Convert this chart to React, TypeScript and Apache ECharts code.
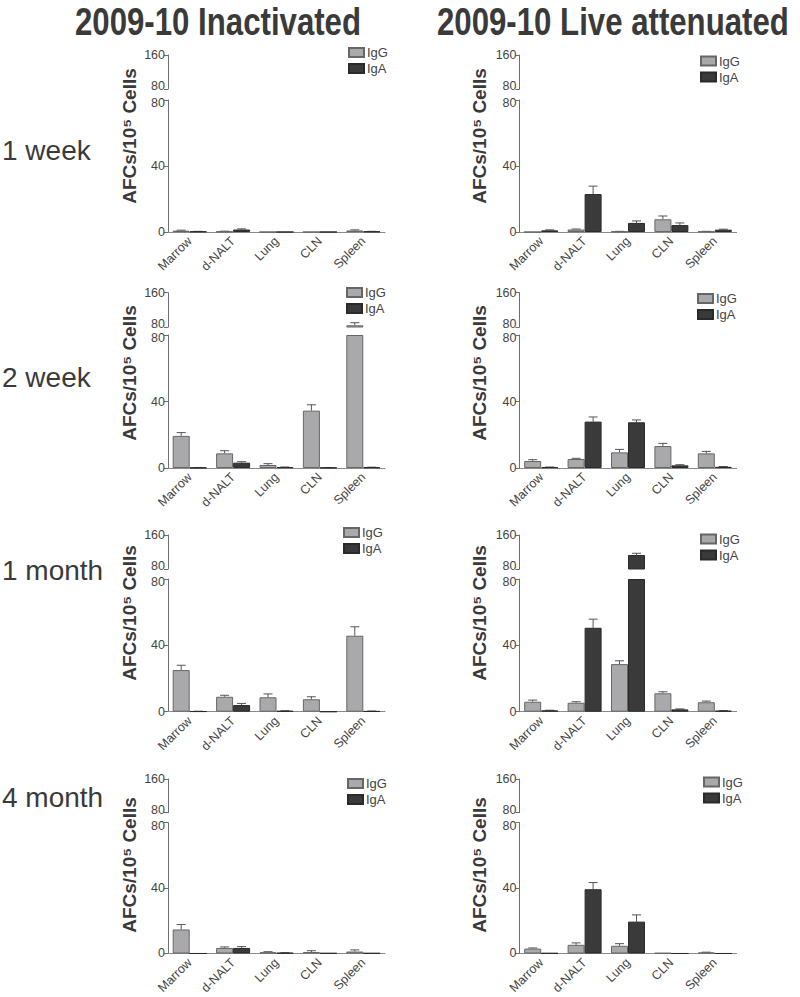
import React, { useEffect, useRef } from "react";
import * as echarts from "echarts";

// ---------- data ----------
const categories = ["Marrow", "d-NALT", "Lung", "CLN", "Spleen"];
const rowLabels = ["1 week", "2 week", "1 month", "4 month"];
const columnTitles = ["2009-10 Inactivated", "2009-10 Live attenuated"];
const seriesNames = ["IgG", "IgA"];
const lowerTicks = [0, 40, 80];
const upperTicks = [80, 160];

// Inactivated
const inact1wIgG = [0.8, 0.3, 0, 0, 0.9];
const inact1wIgGErr = [0.3, 0.2, 0, 0, 0.4];
const inact1wIgA = [0.3, 1.5, 0, 0, 0.3];
const inact1wIgAErr = [0.1, 0.4, 0, 0, 0.1];

const inact2wIgG = [19.3, 8.8, 1.8, 34.5, 84];
const inact2wIgGErr = [2.0, 1.6, 0.8, 3.5, 6];
const inact2wIgA = [0.2, 3.2, 0.5, 0.2, 0.4];
const inact2wIgAErr = [0.1, 0.6, 0.1, 0.1, 0.1];

const inact1mIgG = [25.1, 9.0, 8.7, 7.5, 45.8];
const inact1mIgGErr = [2.9, 0.9, 2.0, 1.5, 5.4];
const inact1mIgA = [0.2, 4.0, 0.5, 0, 0.3];
const inact1mIgAErr = [0.1, 1.0, 0.1, 0, 0.1];

const inact4mIgG = [14.7, 3.4, 0.8, 0.9, 1.2];
const inact4mIgGErr = [3.0, 0.6, 0.3, 0.8, 1.0];
const inact4mIgA = [0, 3.4, 0.4, 0.2, 0.2];
const inact4mIgAErr = [0, 0.8, 0.1, 0, 0];

// Live attenuated
const live1wIgG = [0, 1.5, 0.3, 7.7, 0.3];
const live1wIgGErr = [0, 0.3, 0.1, 2.0, 0.1];
const live1wIgA = [1.0, 23, 5.5, 4.2, 1.4];
const live1wIgAErr = [0.3, 4.8, 1.2, 1.3, 0.3];

const live2wIgG = [4.2, 5.4, 9.4, 13.2, 8.8];
const live2wIgGErr = [0.8, 0.4, 1.8, 1.6, 1.2];
const live2wIgA = [0.5, 27.9, 27.5, 1.6, 0.7];
const live2wIgAErr = [0.1, 2.8, 1.4, 0.4, 0.2];

const live1mIgG = [6.0, 5.4, 28.7, 11.1, 5.7];
const live1mIgGErr = [1.0, 0.6, 2.0, 0.9, 0.7];
const live1mIgA = [0.8, 50.6, 113, 1.4, 0.6];
const live1mIgAErr = [0.1, 5.2, 4, 0.3, 0.1];

const live4mIgG = [3.0, 5.3, 4.7, 0.3, 0.6];
const live4mIgGErr = [0.4, 1.2, 1.3, 0, 0.2];
const live4mIgA = [0.2, 39.3, 19.5, 0, 0];
const live4mIgAErr = [0, 4.1, 4.1, 0, 0];

// panels in row-major order: [IgG, IgGErr, IgA, IgAErr]
const panels = [
  [inact1wIgG, inact1wIgGErr, inact1wIgA, inact1wIgAErr],
  [live1wIgG, live1wIgGErr, live1wIgA, live1wIgAErr],
  [inact2wIgG, inact2wIgGErr, inact2wIgA, inact2wIgAErr],
  [live2wIgG, live2wIgGErr, live2wIgA, live2wIgAErr],
  [inact1mIgG, inact1mIgGErr, inact1mIgA, inact1mIgAErr],
  [live1mIgG, live1mIgGErr, live1mIgA, live1mIgAErr],
  [inact4mIgG, inact4mIgGErr, inact4mIgA, inact4mIgAErr],
  [live4mIgG, live4mIgGErr, live4mIgA, live4mIgAErr],
];

// ---------- layout ----------
const BREAK = 80;
const TOP = 160;
const colLeft = [168, 519.5];
const gridWidth = 217;
const rowGeom = [
  { y160: 55, yUp80: 89, yLo80: 100, y0: 232 },
  { y160: 292.7, yUp80: 327, yLo80: 335, y0: 468 },
  { y160: 535, yUp80: 569, yLo80: 579, y0: 711.7 },
  { y160: 779, yUp80: 812.7, yLo80: 822.7, y0: 955 },
];
const legendPos = [
  [348, 46], [700, 54.5], [346, 286], [697, 292],
  [343, 526], [700, 532.5], [347, 777], [703, 775.5],
];
const ylabelY = [136, 373, 613, 865];
const ylabelX = [129, 479];
const rowLabelY = [150, 377, 570, 797];

const BAR_W = 17;
const IGG_FILL = "#a9a9ab";
const IGG_BORDER = "#666666";
const IGA_FILL = "#3a3a3a";
const IGA_BORDER = "#2a2a2a";
const ERR_COLOR = "#555555";
const AXIS_COLOR = "#6e6e6e";
const TEXT_COLOR = "#444444";
const FONT = "'Liberation Sans', Arial, sans-serif";

function errRender(params: any, api: any) {
  const idx = api.value(0);
  const v = api.value(1);
  const e = api.value(2);
  const side = api.value(3);
  const base = api.coord([idx, v]);
  const top = api.coord([idx, v + e]);
  const x = base[0] + side * (BAR_W / 2);
  const style = { stroke: ERR_COLOR, lineWidth: 1 };
  return {
    type: "group",
    children: [
      { type: "line", shape: { x1: x, y1: base[1], x2: x, y2: top[1] }, style },
      { type: "line", shape: { x1: x - 4.5, y1: top[1], x2: x + 4.5, y2: top[1] }, style },
    ],
  };
}

const tickText = { fontSize: 12.5, color: TEXT_COLOR, fontFamily: FONT, lineHeight: 10 };

function buildOption() {
  const grid: any[] = [];
  const xAxis: any[] = [];
  const yAxis: any[] = [];
  const series: any[] = [];
  const legend: any[] = [];
  const graphic: any[] = [];

  panels.forEach((p, pi) => {
    const r = Math.floor(pi / 2);
    const c = pi % 2;
    const g = rowGeom[r];
    const upperIdx = grid.length;
    grid.push({ left: colLeft[c], width: gridWidth, top: g.y160, height: g.yUp80 - g.y160 });
    const lowerIdx = grid.length;
    grid.push({ left: colLeft[c], width: gridWidth, top: g.yLo80, height: g.y0 - g.yLo80 });

    xAxis.push({ type: "category", gridIndex: upperIdx, data: categories, show: false });
    xAxis.push({
      type: "category",
      gridIndex: lowerIdx,
      data: categories,
      axisLine: { show: true, lineStyle: { color: "#8a8a8a", width: 1.2 } },
      axisTick: { show: false },
      axisLabel: { rotate: 45, interval: 0, fontSize: 12.5, color: TEXT_COLOR, fontFamily: FONT, margin: 7 },
    });
    const yCommon = {
      type: "value",
      axisLine: { show: true, lineStyle: { color: AXIS_COLOR, width: 1 } },
      axisTick: { show: true, length: 4, lineStyle: { color: AXIS_COLOR } },
      splitLine: { show: false },
    };
    yAxis.push({
      ...yCommon,
      gridIndex: upperIdx,
      min: upperTicks[0],
      max: TOP,
      interval: upperTicks[1] - upperTicks[0],
      axisLabel: {
        ...tickText,
        margin: 3,
        formatter: (v: number) => (v === BREAK ? `{u|${v}}` : `{n|${v}}`),
        rich: { u: { ...tickText, padding: [0, 0, 6, 0] }, n: { ...tickText } },
      },
    });
    yAxis.push({
      ...yCommon,
      gridIndex: lowerIdx,
      min: lowerTicks[0],
      max: BREAK,
      interval: lowerTicks[1] - lowerTicks[0],
      axisLabel: {
        ...tickText,
        margin: 3,
        formatter: (v: number) => (v === BREAK ? `{l|${v}}` : `{n|${v}}`),
        rich: { l: { ...tickText, padding: [6, 0, 0, 0] }, n: { ...tickText } },
      },
    });

    const [igg, iggErr, iga, igaErr] = p;
    const defs = [
      { name: seriesNames[0], vals: igg, errs: iggErr, fill: IGG_FILL, border: IGG_BORDER, side: -1 },
      { name: seriesNames[1], vals: iga, errs: igaErr, fill: IGA_FILL, border: IGA_BORDER, side: 1 },
    ];
    defs.forEach((d) => {
      const itemStyle = { color: d.fill, borderColor: d.border, borderWidth: 1 };
      series.push({
        type: "bar",
        name: d.name,
        xAxisIndex: lowerIdx,
        yAxisIndex: lowerIdx,
        data: d.vals.map((v) => Math.min(v, BREAK)),
        barWidth: BAR_W,
        barGap: "0%",
        itemStyle,
        silent: true,
      });
      series.push({
        type: "bar",
        name: d.name,
        xAxisIndex: upperIdx,
        yAxisIndex: upperIdx,
        data: d.vals.map((v) => (v > BREAK ? v : "-")),
        barWidth: BAR_W,
        barGap: "0%",
        itemStyle,
        silent: true,
      });
      const lowErr: any[] = [];
      const upErr: any[] = [];
      d.vals.forEach((v, i) => {
        const e = d.errs[i];
        if (!(e > 0)) return;
        if (v > BREAK) upErr.push([i, v, e, d.side]);
        else if (v + e <= BREAK) lowErr.push([i, v, e, d.side]);
      });
      series.push({
        type: "custom",
        xAxisIndex: lowerIdx,
        yAxisIndex: lowerIdx,
        renderItem: errRender,
        data: lowErr,
        encode: { x: 0, y: 1 },
        silent: true,
        z: 1,
      });
      if (upErr.length) {
        series.push({
          type: "custom",
          xAxisIndex: upperIdx,
          yAxisIndex: upperIdx,
          renderItem: errRender,
          data: upErr,
          encode: { x: 0, y: 1 },
          silent: true,
          z: 1,
        });
      }
    });

    legend.push({
      data: seriesNames,
      left: legendPos[pi][0],
      top: legendPos[pi][1],
      orient: "vertical",
      itemWidth: 15,
      itemHeight: 9,
      itemGap: 3,
      padding: 0,
      icon: "rect",
      selectedMode: false,
      textStyle: { fontSize: 13, color: TEXT_COLOR, fontFamily: FONT, padding: [0, 0, 0, -2] },
    });

    graphic.push({
      type: "text",
      x: ylabelX[c],
      y: ylabelY[r],
      rotation: Math.PI / 2,
      style: {
        text: "AFCs/10\u2075 Cells",
        fill: "#3a3a3a",
        font: `bold 19px ${FONT}`,
        textAlign: "center",
        textVerticalAlign: "middle",
      },
    });
  });

  rowLabels.forEach((t, r) => {
    graphic.push({
      type: "text",
      x: 2,
      y: rowLabelY[r],
      style: { text: t, fill: "#3a3a3a", font: `28px ${FONT}`, textAlign: "left", textVerticalAlign: "middle" },
    });
  });

  graphic.push({
    type: "text",
    x: 218,
    y: 21,
    scaleX: 0.8,
    style: {
      text: columnTitles[0],
      fill: "#3a3a3a",
      font: `bold 39px ${FONT}`,
      textAlign: "center",
      textVerticalAlign: "middle",
    },
  });
  graphic.push({
    type: "text",
    x: 437,
    y: 21,
    scaleX: 0.8,
    style: {
      text: columnTitles[1],
      fill: "#3a3a3a",
      font: `bold 39px ${FONT}`,
      textAlign: "left",
      textVerticalAlign: "middle",
    },
  });

  return {
    animation: false,
    backgroundColor: "#ffffff",
    grid,
    xAxis,
    yAxis,
    series,
    legend,
    graphic,
  };
}

export default function App() {
  const ref = useRef<HTMLDivElement>(null);
  useEffect(() => {
    if (!ref.current) return;
    const chart = echarts.init(ref.current, undefined, { renderer: "svg" });
    chart.setOption(buildOption() as any);
    return () => chart.dispose();
  }, []);
  return (
    <div
      ref={ref}
      style={{ position: "absolute", left: 0, top: 0, width: 800, height: 997, background: "#fff" }}
    />
  );
}
